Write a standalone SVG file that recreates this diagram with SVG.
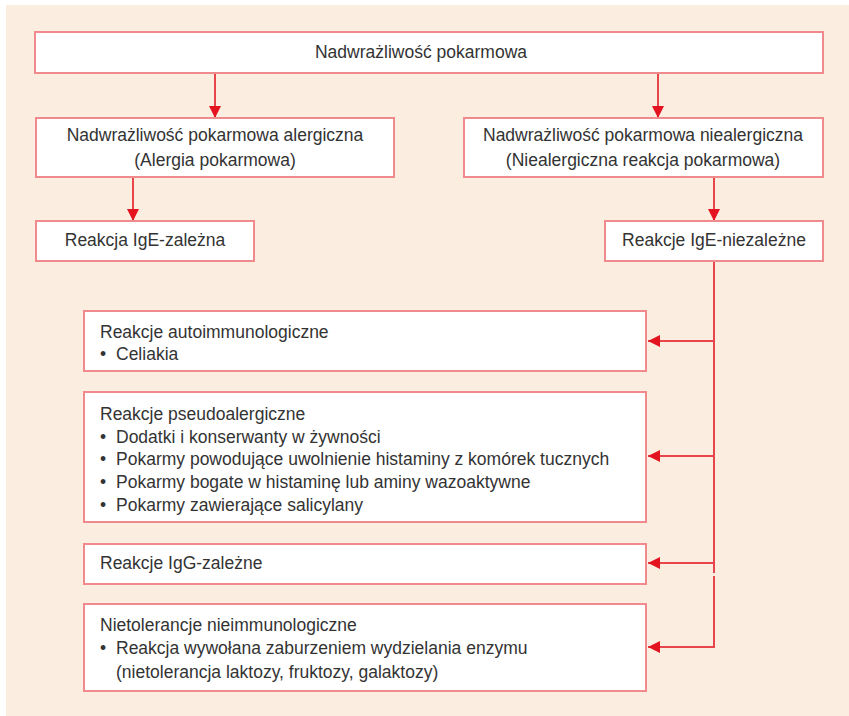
<svg xmlns="http://www.w3.org/2000/svg" width="849" height="716" viewBox="0 0 849 716">
<defs>
<marker id="ah" markerUnits="userSpaceOnUse" markerWidth="12" markerHeight="12" refX="12" refY="6" orient="auto">
<path d="M0,0 L12,6 L0,12 z" fill="#e3141f"/>
</marker>
<style>
.box{fill:#ffffff;stroke:#f08a8c;stroke-width:2}
.t{font-family:"Liberation Sans",Arial,sans-serif;font-size:17.5px;fill:#333333}
.c{text-anchor:middle}
.ln{fill:none;stroke:#e8464c;stroke-width:2}
</style>
</defs>
<rect width="849" height="716" fill="#ffffff"/>
<rect x="6" y="5" width="843" height="711" fill="#fcede1"/>
<g id="connectors">
<path class="ln" d="M215,73 V118" marker-end="url(#ah)"/>
<path class="ln" d="M658,73 V118" marker-end="url(#ah)"/>
<path class="ln" d="M133,177 V221" marker-end="url(#ah)"/>
<path class="ln" d="M714,177 V221" marker-end="url(#ah)"/>
<path class="ln" d="M714,261 V573"/>
<path class="ln" d="M714,341 H648" marker-end="url(#ah)"/>
<path class="ln" d="M714,456 H648" marker-end="url(#ah)"/>
<path class="ln" d="M714,563 H648" marker-end="url(#ah)"/>
<path class="ln" d="M714,576 V647 H648" marker-end="url(#ah)"/>
</g>
<g id="n-root">
<rect class="box" x="35" y="32" width="788" height="41"/>
<text class="t c" x="421" y="58">Nadwrażliwość pokarmowa</text>
</g>
<g id="n-alerg">
<rect class="box" x="36" y="118" width="358" height="59"/>
<text class="t c" x="215" y="141">Nadwrażliwość pokarmowa alergiczna</text>
<text class="t c" x="215" y="166">(Alergia pokarmowa)</text>
</g>
<g id="n-nonalerg">
<rect class="box" x="464" y="118" width="359" height="59"/>
<text class="t c" x="643" y="141">Nadwrażliwość pokarmowa niealergiczna</text>
<text class="t c" x="643" y="166">(Niealergiczna reakcja pokarmowa)</text>
</g>
<g id="n-ige">
<rect class="box" x="36" y="221" width="218" height="40"/>
<text class="t c" x="145" y="246">Reakcja IgE-zależna</text>
</g>
<g id="n-nonige">
<rect class="box" x="605" y="221" width="218" height="40"/>
<text class="t c" x="714" y="246">Reakcje IgE-niezależne</text>
</g>
<g id="n-auto">
<rect class="box" x="84" y="311" width="562" height="60"/>
<text class="t" x="100" y="338">Reakcje autoimmunologiczne</text>
<text class="t" x="100" y="360">•<tspan x="116">Celiakia</tspan></text>
</g>
<g id="n-pseudo">
<rect class="box" x="84" y="392" width="562" height="130"/>
<text class="t" x="100" y="420">Reakcje pseudoalergiczne</text>
<text class="t" x="100" y="443">•<tspan x="116">Dodatki i konserwanty w żywności</tspan></text>
<text class="t" x="100" y="465">•<tspan x="116">Pokarmy powodujące uwolnienie histaminy z komórek tucznych</tspan></text>
<text class="t" x="100" y="488">•<tspan x="116">Pokarmy bogate w histaminę  lub aminy wazoaktywne</tspan></text>
<text class="t" x="100" y="511">•<tspan x="116">Pokarmy zawierające salicylany</tspan></text>
</g>
<g id="n-igg">
<rect class="box" x="84" y="544" width="562" height="40"/>
<text class="t" x="100" y="569">Reakcje IgG-zależne</text>
</g>
<g id="n-nonimm">
<rect class="box" x="84" y="604" width="562" height="87"/>
<text class="t" x="100" y="631">Nietolerancje nieimmunologiczne</text>
<text class="t" x="100" y="654">•<tspan x="116">Reakcja wywołana zaburzeniem wydzielania enzymu</tspan></text>
<text class="t" x="116" y="678">(nietolerancja laktozy, fruktozy, galaktozy)</text>
</g>
</svg>
